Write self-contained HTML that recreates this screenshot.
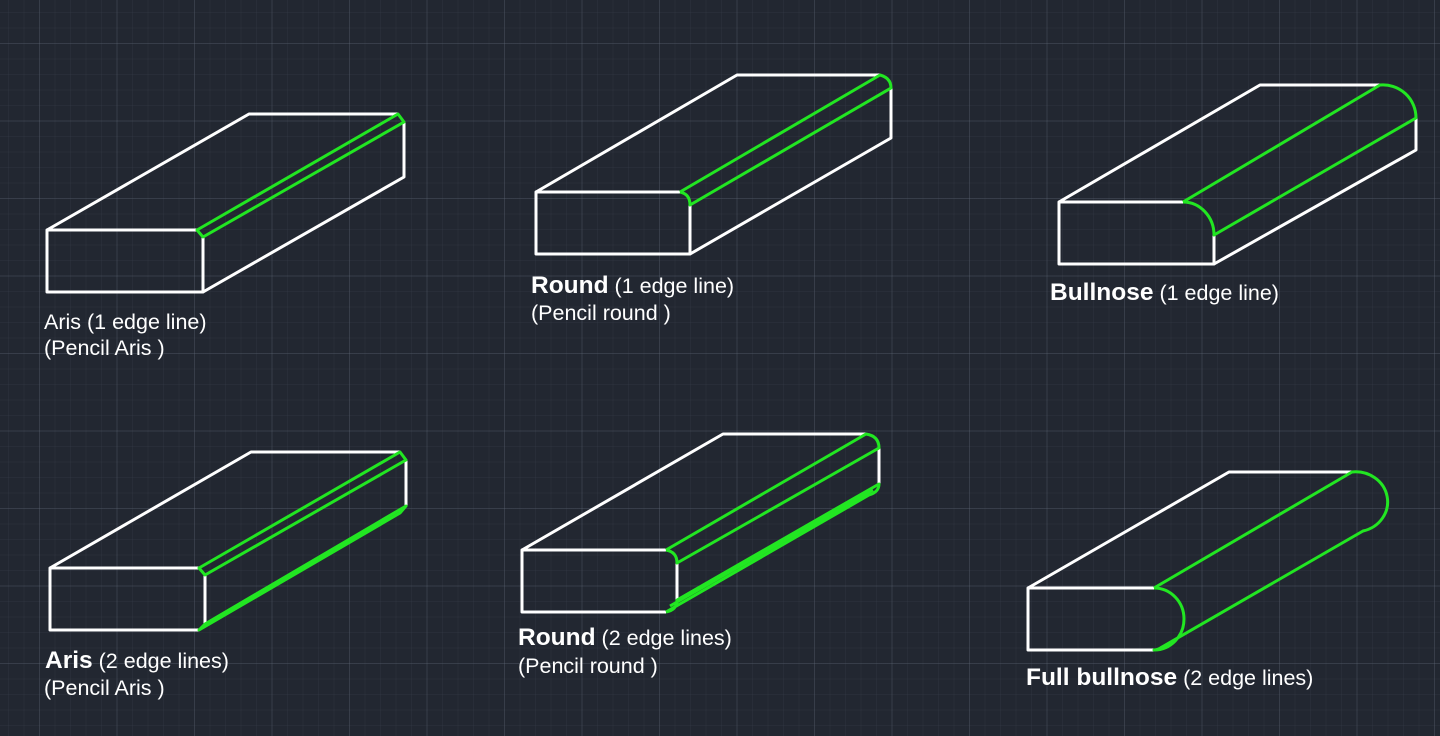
<!DOCTYPE html>
<html><head><meta charset="utf-8"><style>
html,body{margin:0;padding:0}
body{width:1440px;height:736px;overflow:hidden;background-color:#222731;
background-image:
linear-gradient(to right,rgba(110,120,135,.22) 1px,transparent 1px),
linear-gradient(to bottom,rgba(110,120,135,.22) 1px,transparent 1px),
linear-gradient(to right,rgba(60,68,80,.22) 1px,transparent 1px),
linear-gradient(to bottom,rgba(60,68,80,.22) 1px,transparent 1px);
background-size:77.5px 77.5px,77.5px 77.5px,15.5px 15.5px,15.5px 15.5px;
background-position:39px 43px,39px 43px,8px 12px,8px 12px;}
svg{position:absolute;left:0;top:0}
text{font-family:"Liberation Sans",sans-serif;fill:#fff;font-size:21.5px}
.b{font-weight:bold;font-size:24.5px}
</style></head><body>
<svg width="1440" height="736" viewBox="0 0 1440 736">
<g fill="none" stroke="#fff" stroke-width="3" stroke-linejoin="round">
<polyline points="197,230 47,230 47,292 203,292 203,237"/>
<polyline points="47,230 249,114 398,114"/>
<polyline points="404,122 404,177 203,292"/>
<polyline points="680,192 536,192 536,254 690,254 690,205"/>
<polyline points="536,192 737,75 880,75"/>
<polyline points="891,88 891,138 690,254"/>
<polyline points="1183,202 1059,202 1059,264 1214,264 1214,235"/>
<polyline points="1059,202 1260,85 1380,85"/>
<polyline points="1416,118 1416,150 1214,264"/>
<polyline points="199,568 50,568 50,630 199,630"/>
<line x1="205" y1="575" x2="205" y2="624"/>
<polyline points="50,568 251,452 400,452"/>
<line x1="406" y1="460" x2="406" y2="506"/>
<polyline points="666,550 522,550 522,612 666,612"/>
<line x1="677" y1="563" x2="677" y2="600"/>
<polyline points="522,550 723,434 866,434"/>
<line x1="879" y1="448" x2="879" y2="484"/>
<polyline points="1154,588 1028,588 1028,650 1154,650"/>
<polyline points="1028,588 1229,472 1352,472"/>
</g>
<g fill="none" stroke="#22e622" stroke-width="3" stroke-linejoin="round">
<polygon points="197,230 398,114 404,122 203,237"/>
<path d="M680,192 L880,75 Q891,78 891,88 L690,205 Q690,194 680,192"/>
<path d="M1183,202 L1380,85 A33,33 0 0 1 1416,118 L1214,235 A31,33 0 0 0 1183,202"/>
<polygon points="199,568 400,452 406,460 205,575"/>
<polygon points="199,630 400,513 406,506 205,624"/>
<path d="M666,550 L866,434 Q879,436 879,448 L677,563 Q677,552 666,550"/>
<path d="M666,612 L869,495 Q879,492 879,484 L677,600 Q677,610 666,612"/>
<path d="M670,606 L873,490"/>
<path d="M1154,588 A30,31 0 0 1 1154,650 Q1158,650 1162,647 L1363,531 A32,30 0 0 0 1352,472 L1154,588"/>
</g>
<text x="44" y="329">Aris (1 edge line)</text>
<text x="44" y="355">(Pencil Aris )</text>
<text x="531" y="293"><tspan class="b">Round</tspan> (1 edge line)</text>
<text x="531" y="320">(Pencil round )</text>
<text x="1050" y="300"><tspan class="b">Bullnose</tspan> (1 edge line)</text>
<text x="45" y="668"><tspan class="b">Aris</tspan> (2 edge lines)</text>
<text x="44" y="695">(Pencil Aris )</text>
<text x="518" y="645"><tspan class="b">Round</tspan> (2 edge lines)</text>
<text x="518" y="673">(Pencil round )</text>
<text x="1026" y="685"><tspan class="b">Full bullnose</tspan> (2 edge lines)</text>
</svg>
</body></html>
